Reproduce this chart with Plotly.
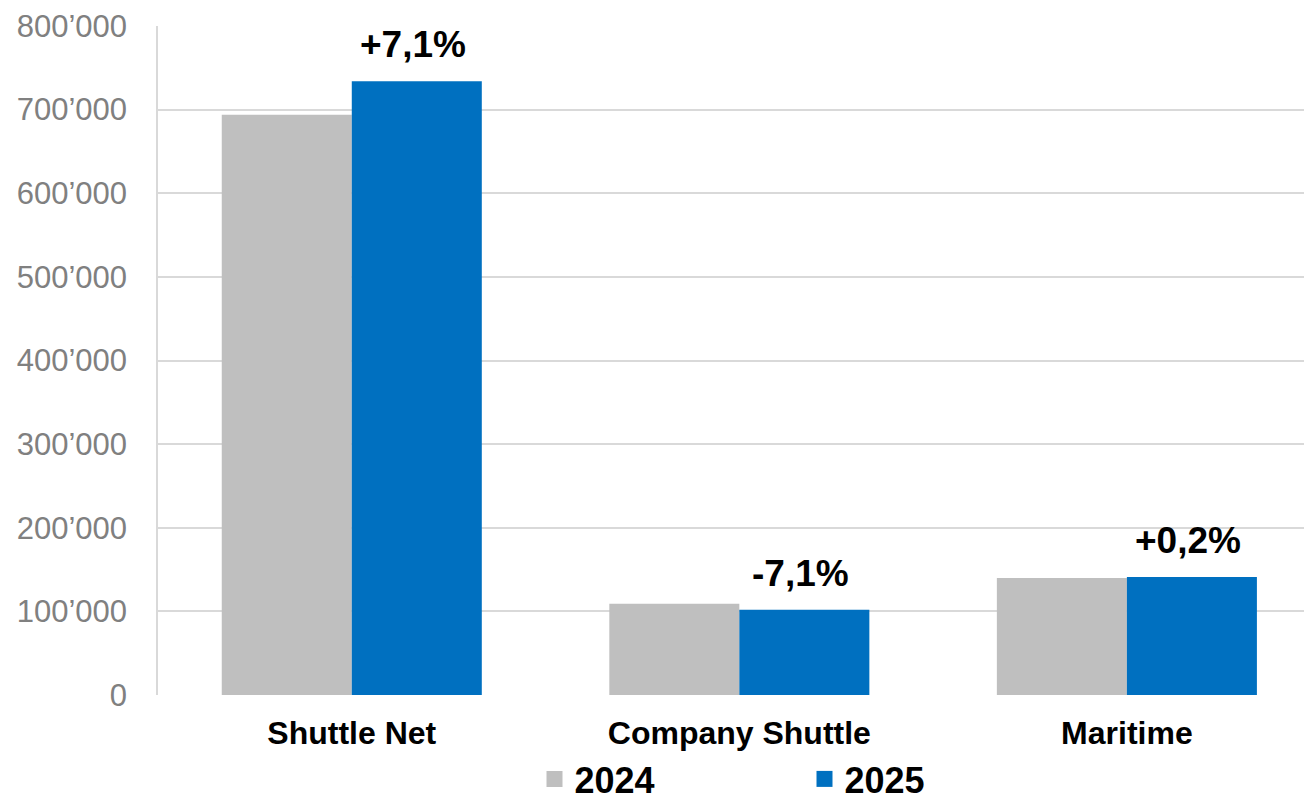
import plotly.graph_objects as go

categories = ["Shuttle Net", "Company Shuttle", "Maritime"]
series_names = ["2024", "2025"]
values_2024 = [694000, 109000, 140000]
values_2025 = [734000, 102000, 141000]
change_labels = ["+7,1%", "-7,1%", "+0,2%"]
y_tickvals = [0, 100000, 200000, 300000, 400000, 500000, 600000, 700000, 800000]
y_ticktext = ["0", "100’000", "200’000", "300’000", "400’000", "500’000", "600’000", "700’000", "800’000"]

colors = {"2024": "#bfbfbf", "2025": "#0070c0"}
FONT = "Liberation Sans, Arial, sans-serif"

W, H = 1304, 802
ml, mr, mt, mb = 158, 0, 26, 107
x_range = [-0.5, 2.457]
bargap = 0.329
plot_w = W - ml - mr
plot_h = H - mt - mb
px_per_unit = plot_w / (x_range[1] - x_range[0])
bar_offset_px = (1 - bargap) / 4 * px_per_unit

fig = go.Figure()
for name, vals in zip(series_names, [values_2024, values_2025]):
    fig.add_trace(go.Bar(
        x=categories, y=vals, name=name,
        marker=dict(color=colors[name], line=dict(width=0)),
        showlegend=False,
    ))
    # legend proxy
    fig.add_trace(go.Scatter(
        x=[None], y=[None], mode="markers", name=name,
        marker=dict(symbol="square", size=20, color=colors[name]),
        showlegend=True,
    ))

for cat, v, lab in zip(categories, values_2025, change_labels):
    fig.add_annotation(
        x=cat, y=v, text=f"<b>{lab}</b>", showarrow=False,
        xanchor="center", yanchor="bottom", xshift=bar_offset_px - 4, yshift=14,
        font=dict(family=FONT, size=37, color="#000000"),
    )

fig.update_layout(
    width=W, height=H,
    margin=dict(l=ml, r=mr, t=mt, b=mb, autoexpand=False),
    paper_bgcolor="white", plot_bgcolor="white",
    barmode="group", bargap=bargap, bargroupgap=0,
    font=dict(family=FONT),
    legend=dict(
        orientation="h", x=(554.5 - 20 - ml) / plot_w, xanchor="left",
        y=-(779 - (H - mb)) / plot_h, yanchor="middle",
        font=dict(family=FONT, size=36, color="#000000", weight="bold"),
        entrywidth=225, entrywidthmode="pixels",
        itemsizing="trace", bgcolor="rgba(0,0,0,0)",
    ),
    xaxis=dict(
        range=x_range, showgrid=False, showline=False, zeroline=False,
        ticks="", ticklabelstandoff=16, automargin=False,
        tickfont=dict(family=FONT, size=32, color="#000000", weight="bold"),
        fixedrange=True,
    ),
    yaxis=dict(
        range=[0, 800000], tickvals=y_tickvals, ticktext=y_ticktext,
        showgrid=True, gridcolor="#d9d9d9", gridwidth=1.5,
        zeroline=False, showline=True, linecolor="#d9d9d9", linewidth=1.5,
        ticks="", ticklabelstandoff=23, automargin=False,
        tickfont=dict(family=FONT, size=31, color="#808080"),
        fixedrange=True,
    ),
)

fig.write_html(
    "out.html",
    config={"displayModeBar": False},
    post_script="document.body.style.margin='0';document.body.style.overflow='hidden';",
)
